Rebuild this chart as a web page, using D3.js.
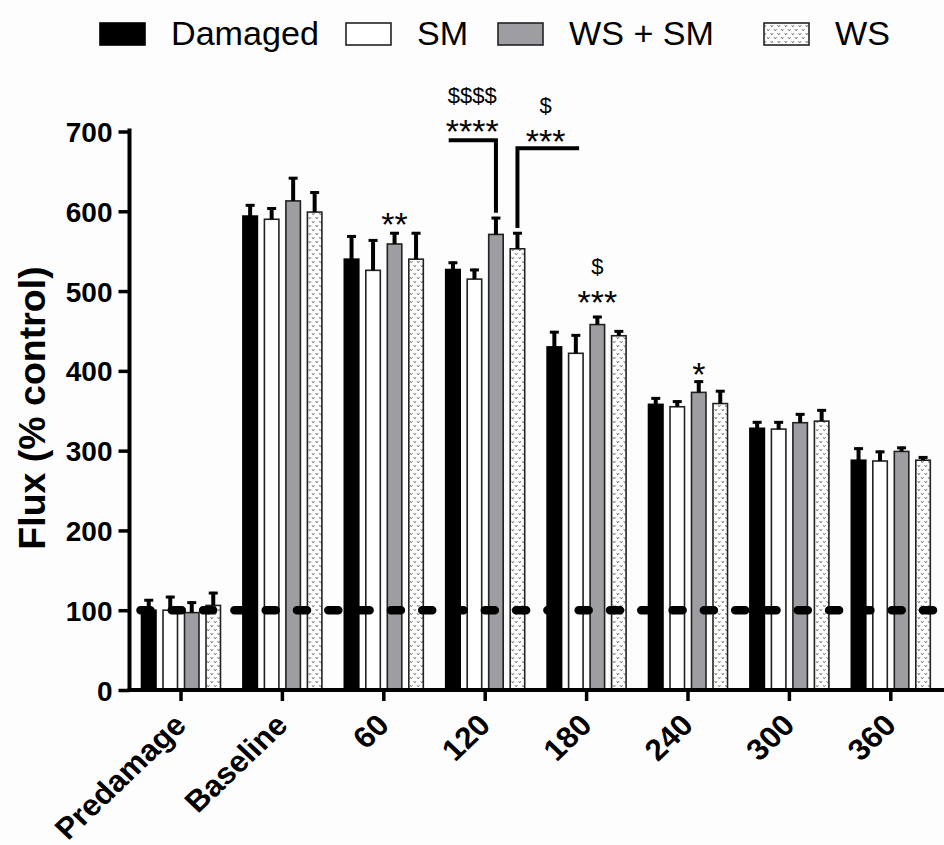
<!DOCTYPE html>
<html>
<head>
<meta charset="utf-8">
<script src="https://cdn.jsdelivr.net/npm/d3@7"></script>
<style>
  html, body { margin: 0; padding: 0; background: #fdfdfd; }
  svg { display: block; font-family: "Liberation Sans", Arial, Helvetica, sans-serif; }
</style>
</head>
<body>
<svg id="chart" width="944" height="845"></svg>
<script>
// Time points (minutes after damage) and treatment groups
const categories = ["Predamage", "Baseline", "60", "120", "180", "240", "300", "360"];
const seriesNames = ["Damaged", "SM", "WS + SM", "WS"];

// Mean flux (% control) per group
const damaged = [100, 594, 540, 527, 430, 358, 328, 288];
const sm      = [100, 590, 526, 515, 422, 355, 327, 287];
const wsSm    = [97, 613, 559, 571, 458, 373, 335, 299];
const ws      = [106, 599, 540, 553, 444, 359, 337, 288];

// Upper error (SEM) per group
const damagedErr = [14, 15, 30, 10, 20, 9, 9, 16];
const smErr      = [18, 15, 39, 13, 24, 8, 10, 13];
const wsSmErr    = [14, 30, 15, 22, 11, 15, 12, 6];
const wsErr      = [17, 26, 34, 21, 7, 17, 15, 5];

const yTicks = [0, 100, 200, 300, 400, 500, 600, 700];
const controlLevel = 100;

// Significance marks above single bars: [time point, series, stars, dollars, star baseline, dollar baseline]
const barMarks = [
  ["60", "WS + SM", "**", "", 569, null],
  ["180", "WS + SM", "***", "$", 471, 522],
  ["240", "WS + SM", "*", "", 381, null]
];
// Bracketed comparisons: [time point, series, bracket level, label time point, label shift, stars, dollars, star baseline, dollar baseline, arm end shift]
const bracketMarks = [
  ["120", "WS + SM", 689, "120", -13, "****", "$$$$", 685, 736, -36.5],
  ["120", "WS", 679, "180", -41, "***", "$", 673, 723, -7.5]
];

const values = [damaged, sm, wsSm, ws];
const errors = [damagedErr, smErr, wsSmErr, wsErr];

const svg = d3.select("#chart");
const defs = svg.append("defs");

// Speckled fill used for the WS group
const pat = defs.append("pattern")
  .attr("id", "speckle")
  .attr("patternUnits", "userSpaceOnUse")
  .attr("width", 7).attr("height", 8);
pat.append("rect").attr("width", 7).attr("height", 8).attr("fill", "#ffffff");
pat.append("path").attr("d", "M0.5,1 L1.8,3 L3,1 M4,5 L5.3,7 L6.5,5")
  .attr("fill", "none").attr("stroke", "#777").attr("stroke-width", 0.9);

const fills = ["#000000", "#ffffff", "#9e9ea2", "url(#speckle)"];
const strokes = ["#000000", "#222222", "#222222", "#222222"];

const axisX = 129.5, axisRight = 944;
const y = d3.scaleLinear().domain([0, 700]).range([690, 131.5]);
const x = d3.scaleBand().domain(categories).range([130.3, 941.5]);
const xc = c => x(c) + x.bandwidth() / 2;
const inner = d3.scaleBand().domain(seriesNames).range([-43, 43])
  .paddingInner(0.326).paddingOuter(0.163);
const barCenter = (c, s) => xc(c) + inner(s) + inner.bandwidth() / 2;

// Bars
const plot = svg.append("g");
seriesNames.forEach((s, si) => {
  plot.append("g").selectAll("rect")
    .data(categories.map((c, i) => ({ c, v: values[si][i] })))
    .join("rect")
    .attr("x", d => xc(d.c) + inner(s))
    .attr("width", inner.bandwidth())
    .attr("y", d => y(d.v))
    .attr("height", d => y(0) - y(d.v))
    .attr("fill", fills[si])
    .attr("stroke", strokes[si])
    .attr("stroke-width", 1.6);
});

// Error bars (upper only) with caps
seriesNames.forEach((s, si) => {
  const g = plot.append("g");
  categories.forEach((c, i) => {
    const cx = barCenter(c, s);
    const top = y(values[si][i] + errors[si][i]);
    g.append("line")
      .attr("x1", cx).attr("x2", cx)
      .attr("y1", y(values[si][i])).attr("y2", top)
      .attr("stroke", "#000").attr("stroke-width", 4);
    g.append("line")
      .attr("x1", cx - 4.5).attr("x2", cx + 4.5)
      .attr("y1", top + 1.2).attr("y2", top + 1.2)
      .attr("stroke", "#000").attr("stroke-width", 3);
  });
});

// Control reference line at 100 %
svg.append("line")
  .attr("x1", axisX).attr("x2", axisRight)
  .attr("y1", y(controlLevel)).attr("y2", y(controlLevel))
  .attr("stroke", "#000").attr("stroke-width", 8.5)
  .attr("stroke-linecap", "round")
  .attr("stroke-dasharray", "10 21.3")
  .attr("stroke-dashoffset", 20.3);

// Y axis
const yAxis = svg.append("g").attr("transform", `translate(${axisX},0)`)
  .call(d3.axisLeft(y).tickValues(yTicks).tickSize(11).tickPadding(6));
yAxis.select(".domain").attr("d", `M0,${y(700) - 3}V${y(0)}`).attr("stroke-width", 4);
yAxis.selectAll(".tick line").attr("stroke-width", 3.5);
yAxis.selectAll(".tick text")
  .attr("font-size", 28).attr("font-weight", "bold").attr("fill", "#000")
  .attr("font-family", "'Liberation Sans', Arial, sans-serif")
  .attr("dy", "0.36em");

// X axis
const xAxis = svg.append("g").attr("transform", `translate(0,${y(0)})`)
  .call(d3.axisBottom(x).tickSize(11).tickFormat(""));
xAxis.select(".domain").attr("d", `M${axisX - 2},0H${axisRight}`).attr("stroke-width", 4);
xAxis.selectAll(".tick line").attr("stroke-width", 3.5);

// Slanted category labels
svg.append("g").selectAll("text")
  .data(categories)
  .join("text")
  .attr("transform", c => `translate(${xc(c) + 7},${y(0) + 37}) scale(1.05,1) rotate(-45)`)
  .attr("text-anchor", "end")
  .attr("font-size", 30).attr("font-weight", "bold")
  .text(c => c);

// Y axis title
svg.append("text")
  .attr("transform", `translate(45,${408}) rotate(-90)`)
  .attr("text-anchor", "middle")
  .attr("font-size", 37.5).attr("font-weight", "bold")
  .text("Flux (% control)");

// Significance marks
const ann = svg.append("g").attr("fill", "#000").attr("text-anchor", "middle");
barMarks.forEach(([c, s, stars, dollars, starBase, dollarBase]) => {
  const cx = barCenter(c, s);
  ann.append("text").attr("x", cx).attr("y", y(starBase))
    .attr("font-size", 34).text(stars);
  if (dollars) {
    ann.append("text").attr("x", cx).attr("y", y(dollarBase))
      .attr("font-size", 22).text(dollars);
  }
});
bracketMarks.forEach(([c, s, level, labelCat, shift, stars, dollars, starBase, dollarBase, armShift]) => {
  const cx = barCenter(c, s);
  const i = categories.indexOf(c);
  const si = seriesNames.indexOf(s);
  const startY = y(values[si][i] + errors[si][i]) - 4;
  const armEnd = xc(labelCat) + armShift;
  svg.append("path")
    .attr("d", `M${cx},${startY}V${y(level)}H${armEnd}`)
    .attr("fill", "none").attr("stroke", "#000").attr("stroke-width", 4);
  const lx = xc(labelCat) + shift;
  ann.append("text").attr("x", lx).attr("y", y(starBase))
    .attr("font-size", 34).text(stars);
  ann.append("text").attr("x", lx).attr("y", y(dollarBase))
    .attr("font-size", 22).text(dollars);
});

// Legend
const legendX = [100, 346, 498, 764];
const legend = svg.append("g");
seriesNames.forEach((s, si) => {
  legend.append("rect")
    .attr("x", legendX[si]).attr("y", 23)
    .attr("width", 45).attr("height", 22)
    .attr("fill", fills[si]).attr("stroke", strokes[si]).attr("stroke-width", 1.6);
  legend.append("text")
    .attr("transform", `translate(${legendX[si] + 71},45) scale(1.05,1)`)
    .attr("font-size", 32.5)
    .text(s);
});
</script>
</body>
</html>
